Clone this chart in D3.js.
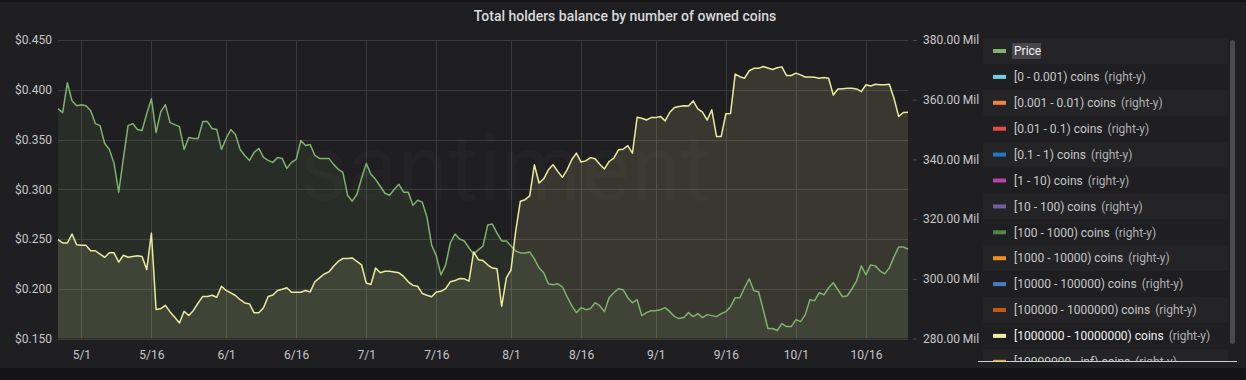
<!DOCTYPE html>
<html>
<head>
<meta charset="utf-8">
<script src="https://cdn.jsdelivr.net/npm/d3@7"></script>
<style>
  html, body { margin: 0; padding: 0; background: #141416; }
  svg { display: block; font-family: Roboto, "Noto Sans", sans-serif; }
</style>
</head>
<body>
<svg id="chart" width="1246" height="380"></svg>
<script>
// ---------- DATA ----------
const chartTitle = "Total holders balance by number of owned coins";
const startDate = "2020-04-26";   // first daily point
// Price (left axis, USD), one value per day
const priceValues = [
  0.381,0.377,0.407,0.389,0.384,0.385,0.384,0.379,0.366,0.364,
  0.346,0.340,0.326,0.297,0.331,0.364,0.366,0.360,0.359,0.376,
  0.391,0.357,0.378,0.385,0.367,0.365,0.363,0.340,0.352,0.351,
  0.351,0.368,0.368,0.361,0.360,0.340,0.351,0.360,0.355,0.340,
  0.334,0.329,0.337,0.341,0.332,0.329,0.327,0.332,0.331,0.321,
  0.327,0.330,0.349,0.344,0.345,0.334,0.331,0.331,0.331,0.325,
  0.320,0.317,0.294,0.288,0.295,0.311,0.326,0.315,0.310,0.303,
  0.296,0.294,0.300,0.305,0.297,0.297,0.284,0.289,0.287,0.272,
  0.244,0.233,0.214,0.224,0.246,0.255,0.250,0.248,0.241,0.235,
  0.239,0.243,0.264,0.265,0.256,0.248,0.248,0.243,0.238,0.236,
  0.236,0.237,0.230,0.221,0.216,0.205,0.204,0.205,0.202,0.192,
  0.183,0.176,0.181,0.179,0.180,0.186,0.183,0.177,0.191,0.196,
  0.200,0.199,0.191,0.186,0.189,0.173,0.176,0.178,0.178,0.179,
  0.181,0.177,0.172,0.170,0.171,0.176,0.172,0.175,0.171,0.174,
  0.173,0.172,0.175,0.177,0.182,0.191,0.191,0.201,0.210,0.198,
  0.197,0.179,0.160,0.160,0.158,0.165,0.162,0.162,0.169,0.167,
  0.174,0.189,0.188,0.196,0.194,0.201,0.206,0.199,0.192,0.193,
  0.200,0.208,0.223,0.214,0.224,0.223,0.218,0.215,0.221,0.232,
  0.242,0.242,0.240
];
// [1000000 - 10000000) coins balance (right axis, millions), one value per day
const holdersValues = [
  313.1,312.0,312.0,315.0,311.4,311.2,311.2,309.4,309.4,308.3,
  307.2,308.7,308.7,305.6,307.9,307.2,307.5,307.7,307.5,303.1,
  315.3,289.7,290.0,291.1,288.9,287.1,285.2,289.1,287.7,289.4,
  291.9,294.1,294.1,294.5,293.8,297.5,296.1,295.3,294.4,293.0,
  291.9,291.6,288.6,288.6,290.3,294.1,294.6,296.1,296.5,297.0,
  295.5,295.5,295.5,296.1,295.6,299.0,300.3,301.6,302.3,304.2,
  305.8,306.8,306.8,307.0,305.8,304.7,298.6,298.1,303.6,302.0,
  302.5,302.5,302.3,302.0,300.8,299.0,297.8,297.5,295.1,294.5,
  294.0,295.6,295.8,296.7,299.0,299.4,300.1,300.0,299.2,309.0,
  306.4,306.1,304.7,303.6,303.4,290.8,300.3,303.0,316.0,326.0,
  326.5,327.8,338.2,332.1,333.5,336.5,338.2,336.0,334.0,336.5,
  339.9,342.1,339.1,339.5,340.6,340.2,338.4,336.8,339.3,340.4,
  343.2,343.4,344.6,342.1,354.1,353.8,353.2,354.0,354.0,354.4,
  352.9,355.8,357.4,357.7,358.0,357.9,359.6,356.9,355.8,353.2,
  356.6,347.7,347.7,355.3,355.4,368.6,367.7,367.2,369.7,370.5,
  370.5,371.1,370.6,370.1,370.7,371.0,368.1,368.1,368.9,368.3,
  367.6,367.6,367.5,367.2,367.4,367.2,361.6,363.6,363.7,363.8,
  363.8,363.6,362.7,365.0,364.6,365.2,365.0,365.0,365.2,360.5,
  354.4,355.7,355.8
];
const xTickDates = ["2020-05-01","2020-05-16","2020-06-01","2020-06-16","2020-07-01","2020-07-16",
                    "2020-08-01","2020-08-16","2020-09-01","2020-09-16","2020-10-01","2020-10-16"];
const leftTicks = [0.15, 0.20, 0.25, 0.30, 0.35, 0.40, 0.45];
const rightTicks = [280, 300, 320, 340, 360, 380];
const legendNames = ["Price","[0 - 0.001) coins","[0.001 - 0.01) coins","[0.01 - 0.1) coins",
  "[0.1 - 1) coins","[1 - 10) coins","[10 - 100) coins","[100 - 1000) coins",
  "[1000 - 10000) coins","[10000 - 100000) coins","[100000 - 1000000) coins",
  "[1000000 - 10000000) coins","[10000000 - inf) coins"];
const legendColors = ["#7eb26d","#6ed0e0","#ef843c","#e24d42","#1f78c1","#ba43a9","#705da0",
  "#508642","#f2901d","#447ebc","#c15c17","#eef0a0","#e5ac0e"];

// ---------- LAYOUT ----------
const W = 1246, H = 380;
const plot = { left: 58, right: 908, top: 40, bottom: 338.5 };
const svg = d3.select("#chart");

svg.append("rect").attr("x", 0).attr("y", 2).attr("width", W).attr("height", 366).attr("fill", "#1f1f21");

const parse = d3.utcParse("%Y-%m-%d");
const t0 = parse(startDate);
const dates = priceValues.map((_, i) => d3.utcDay.offset(t0, i));

const x = d3.scaleUtc().domain([dates[0], dates[dates.length - 1]]).range([plot.left, plot.right]);
const yL = d3.scaleLinear().domain([0.15, 0.45]).range([plot.bottom, plot.top]);
const yR = d3.scaleLinear().domain([280, 380]).range([plot.bottom, plot.top]);

// title
svg.append("text").attr("x", 625).attr("y", 21).attr("text-anchor", "middle")
  .attr("fill", "#d8d9da").attr("font-size", 14).attr("font-weight", 500).text(chartTitle);

// grid
const grid = svg.append("g");
grid.selectAll("line.h").data(leftTicks).join("line")
  .attr("x1", plot.left).attr("x2", plot.right)
  .attr("y1", d => Math.round(yL(d)) + 0.5).attr("y2", d => Math.round(yL(d)) + 0.5)
  .attr("stroke", "#3b3b3e").attr("stroke-width", 1);
grid.selectAll("line.v").data(xTickDates.map(parse)).join("line")
  .attr("y1", plot.top).attr("y2", plot.bottom)
  .attr("x1", d => Math.round(x(d)) + 0.5).attr("x2", d => Math.round(x(d)) + 0.5)
  .attr("stroke", "#3b3b3e").attr("stroke-width", 1);

// watermark
svg.append("text").attr("x", 300).attr("y", 200).attr("font-size", 92)
  .attr("fill", "#ffffff").attr("fill-opacity", 0.02).text("santiment");

// areas
const priceArea = d3.area().x((d, i) => x(dates[i])).y0(plot.bottom).y1(d => yL(d));
const holdArea = d3.area().x((d, i) => x(dates[i])).y0(plot.bottom).y1(d => yR(d));
const priceLine = d3.line().x((d, i) => x(dates[i])).y(d => yL(d));
const holdLine = d3.line().x((d, i) => x(dates[i])).y(d => yR(d));

svg.append("path").datum(priceValues).attr("d", priceArea).attr("fill", "#7eb26d").attr("fill-opacity", 0.1);
svg.append("path").datum(holdersValues).attr("d", holdArea).attr("fill", "#eef0a0").attr("fill-opacity", 0.12);
svg.append("path").datum(priceValues).attr("d", priceLine).attr("fill", "none")
  .attr("stroke", "#7eb26d").attr("stroke-width", 1.5).attr("stroke-linejoin", "round");
svg.append("path").datum(holdersValues).attr("d", holdLine).attr("fill", "none")
  .attr("stroke", "#eaeb9c").attr("stroke-width", 1.5).attr("stroke-linejoin", "round");

// axes
const axisColor = "#c7c7c9";
const gL = svg.append("g").attr("transform", `translate(${plot.left},0)`)
  .call(d3.axisLeft(yL).tickValues(leftTicks).tickFormat(d3.format("$.3f")).tickSize(0).tickPadding(6));
const gR = svg.append("g").attr("transform", `translate(${plot.right + 5},0)`)
  .call(d3.axisRight(yR).tickValues(rightTicks).tickFormat(d => d.toFixed(2) + " Mil").tickSize(4).tickPadding(6));
const gB = svg.append("g").attr("transform", `translate(0,${plot.bottom})`)
  .call(d3.axisBottom(x).tickValues(xTickDates.map(parse)).tickFormat(d3.utcFormat("%-m/%-d")).tickSize(0).tickPadding(10));
[gL, gR, gB].forEach(g => {
  g.select(".domain").remove();
  g.selectAll("text").attr("fill", axisColor).attr("font-size", 12).attr("font-family", "Roboto, sans-serif");
  g.selectAll("line").attr("stroke", "#4a4a4d");
});
gB.selectAll("text").attr("dy", "0.9em");

// legend
const lg = svg.append("g");
const rowH = 25.9, row0 = 51;
legendNames.forEach((name, i) => {
  const cy = row0 + i * rowH;
  if (i % 2 === 0) {
    lg.append("rect").attr("x", 983).attr("y", cy - rowH / 2).attr("width", 245).attr("height", rowH)
      .attr("fill", "#ffffff").attr("fill-opacity", 0.025);
  }
  lg.append("rect").attr("x", 993).attr("y", cy - 2).attr("width", 13).attr("height", 4)
    .attr("fill", legendColors[i]);
  const isPrice = i === 0;
  const active = i === 11;
  if (isPrice) {
    lg.append("rect").attr("x", 1012).attr("y", cy - 8).attr("width", 29).attr("height", 16)
      .attr("fill", "#48484c");
  }
  const t = lg.append("text").attr("x", 1014).attr("y", cy).attr("dy", "0.35em")
    .attr("font-size", 12).attr("fill", active || isPrice ? "#f2f2f2" : "#c7c7c9");
  t.append("tspan").text(name);
  if (!isPrice) {
    t.append("tspan").attr("fill", "#b0b0b3").attr("dx", 5).text("(right-y)");
  }
});
// clip rest of legend below bottom line
svg.append("rect").attr("x", 975).attr("y", 362).attr("width", 271).attr("height", 6).attr("fill", "#1f1f21");
svg.append("rect").attr("x", 975).attr("y", 368).attr("width", 271).attr("height", 12).attr("fill", "#141416");
svg.append("line").attr("x1", 978).attr("x2", 1237).attr("y1", 361.5).attr("y2", 361.5)
  .attr("stroke", "#cfcfcf").attr("stroke-width", 1);
// scrollbar
svg.append("rect").attr("x", 1230).attr("y", 40).attr("width", 5).attr("height", 304).attr("rx", 2.5)
  .attr("fill", "#4b4b4f");
</script>
</body>
</html>
